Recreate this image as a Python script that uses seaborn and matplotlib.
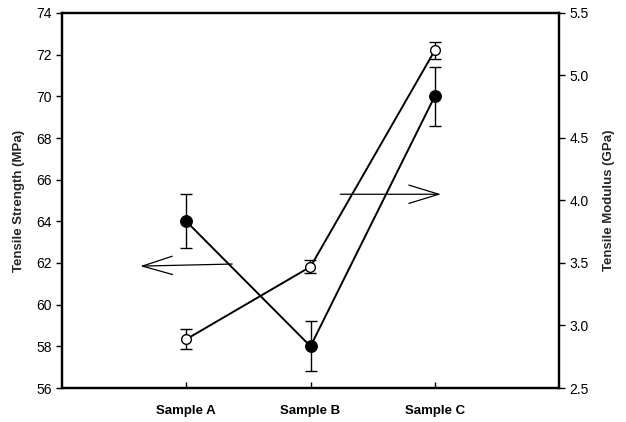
import matplotlib
matplotlib.use("Agg")
import matplotlib.pyplot as plt
import seaborn as sns
import pandas as pd

samples = ["Sample A", "Sample B", "Sample C"]
strength = [64.0, 58.0, 70.0]          # MPa
strength_err = [1.3, 1.2, 1.4]
modulus = [2.89, 3.47, 5.20]           # GPa
modulus_err = [0.08, 0.05, 0.07]

sns.set_theme(style="white")
plt.rcParams["font.family"] = ["Liberation Sans", "DejaVu Sans"]

pos = [1, 2, 3]
df = pd.DataFrame({"pos": pos, "strength": strength, "modulus": modulus})

fig = plt.figure(figsize=(6.26, 4.22), dpi=100)
ax = fig.add_axes([62 / 626, 1 - 388 / 422, (559 - 62) / 626, (388 - 13) / 422])
ax2 = ax.twinx()

# Tensile strength (filled circles, left axis)
sns.lineplot(data=df, x="pos", y="strength", ax=ax, color="black", lw=1.4,
             marker="o", markersize=8.5, markerfacecolor="black",
             markeredgecolor="black", zorder=3)
ax.errorbar(pos, strength, yerr=strength_err, fmt="none", ecolor="black",
            elinewidth=1.0, capsize=4.5, capthick=1.0, zorder=2)

# Tensile modulus (open circles, right axis)
sns.lineplot(data=df, x="pos", y="modulus", ax=ax2, color="black", lw=1.4,
             marker="o", markersize=7, markerfacecolor="white",
             markeredgecolor="black", markeredgewidth=1.0, zorder=3)
ax2.errorbar(pos, modulus, yerr=modulus_err, fmt="none", ecolor="black",
             elinewidth=1.0, capsize=4.5, capthick=1.0, zorder=2)

ax.set_xlim(0, 4)
ax.set_ylim(56, 74)
ax2.set_ylim(2.5, 5.5)
ax.set_yticks(range(56, 75, 2))
ax2.set_yticks([2.5, 3.0, 3.5, 4.0, 4.5, 5.0, 5.5])
ax2.set_yticklabels([f"{v:.1f}" for v in [2.5, 3.0, 3.5, 4.0, 4.5, 5.0, 5.5]])
ax.set_xticks(pos)
ax.set_xticklabels(samples, fontweight="bold", fontsize=9.5)

ax.set_xlabel("")
ax.set_ylabel("Tensile Strength (MPa)", fontweight="bold", fontsize=9.5, labelpad=8)
ax2.set_ylabel("Tensile Modulus (GPa)", fontweight="bold", fontsize=9.5, labelpad=10)

for a in (ax, ax2):
    for s in a.spines.values():
        s.set_linewidth(1.6)
        s.set_color("black")

ax.tick_params(axis="y", direction="out", length=4, width=1, labelsize=10,
               left=True, colors="black")
ax.tick_params(axis="x", direction="in", length=4, width=1, bottom=True,
               pad=12, colors="black")
ax2.tick_params(axis="y", direction="out", length=4, width=1, labelsize=10,
                right=True, colors="black")
ax.grid(False)
ax2.grid(False)

# Arrows pointing to each series' axis
arrow_style = dict(arrowstyle="->,head_length=1.8,head_width=0.55",
                   lw=0.9, color="black", shrinkA=0, shrinkB=0)
ax.annotate("", xy=(0.63, 61.85), xytext=(1.37, 61.95), arrowprops=arrow_style)
ax2.annotate("", xy=(3.05, 4.05), xytext=(2.24, 4.05), arrowprops=arrow_style)

fig.savefig("out.png", dpi=100)
